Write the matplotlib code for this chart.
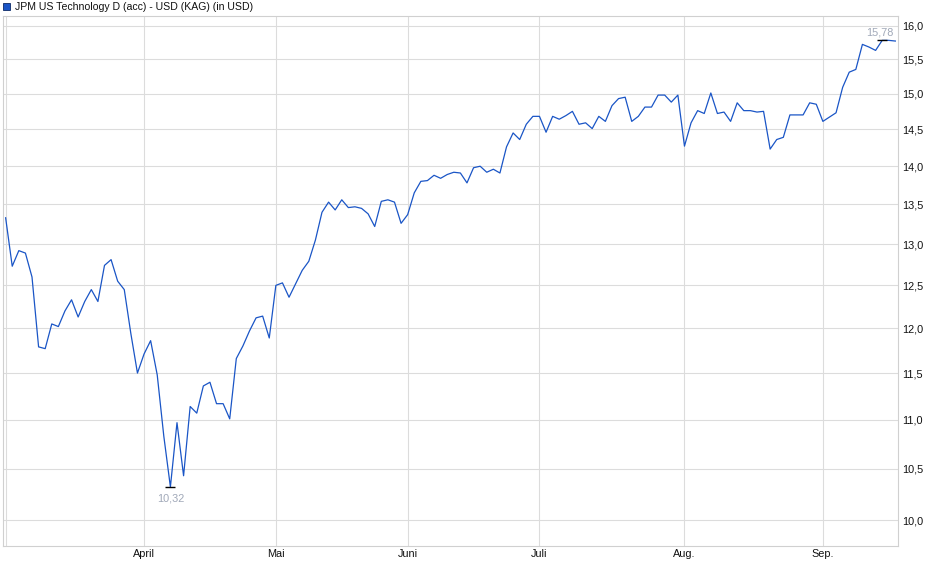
import numpy as np
import matplotlib
matplotlib.use("Agg")
import matplotlib.pyplot as plt
from matplotlib.patches import Rectangle
from matplotlib.ticker import FixedLocator, NullLocator, FuncFormatter

plt.rcParams['font.family'] = ['Liberation Sans', 'DejaVu Sans']

title = "JPM US Technology D (acc) - USD (KAG) (in USD)"

# Schlusskurse (Handelstage)
prices = [
    13.33, 12.73, 12.92, 12.89, 12.60, 11.79, 11.77, 12.05, 12.02, 12.20,
    12.33, 12.13, 12.31, 12.45, 12.31, 12.74, 12.81, 12.55, 12.45, 11.94,
    11.50, 11.71, 11.86, 11.48, 10.83, 10.32, 10.97, 10.43, 11.14, 11.07,
    11.36, 11.40, 11.17, 11.17, 11.01, 11.66, 11.80, 11.97, 12.12, 12.14,
    11.89, 12.50, 12.53, 12.36, 12.52, 12.68, 12.79, 13.05, 13.40, 13.53,
    13.43, 13.56, 13.46, 13.47, 13.45, 13.38, 13.22, 13.54, 13.56, 13.53,
    13.26, 13.37, 13.65, 13.80, 13.81, 13.88, 13.84, 13.89, 13.92, 13.91,
    13.78, 13.98, 14.00, 13.92, 13.96, 13.91, 14.26, 14.45, 14.36, 14.57,
    14.68, 14.68, 14.46, 14.68, 14.64, 14.69, 14.75, 14.57, 14.59, 14.51,
    14.68, 14.61, 14.83, 14.93, 14.95, 14.61, 14.68, 14.81, 14.81, 14.98,
    14.98, 14.88, 14.98, 14.27, 14.59, 14.76, 14.72, 15.01, 14.72, 14.74,
    14.61, 14.87, 14.76, 14.76, 14.74, 14.75, 14.23, 14.36, 14.39, 14.70,
    14.70, 14.70, 14.87, 14.85, 14.61, 14.67, 14.73, 15.09, 15.31, 15.35,
    15.72, 15.68, 15.63, 15.78, 15.78, 15.77,
]

# erster Handelstag je Monat (Index in prices)
month_start = [21, 41, 61, 81, 103, 124]
month_label = ["April", "Mai", "Juni", "Juli", "Aug.", "Sep."]

y_ticks = [10.0, 10.5, 11.0, 11.5, 12.0, 12.5, 13.0, 13.5, 14.0, 14.5, 15.0, 15.5, 16.0]

line_col = "#1a55c6"
grid_col = "#dcdcdc"
note_col = "#a0a8b8"

W, H = 940, 579
fig = plt.figure(figsize=(W / 100, H / 100), dpi=100)
fig.patch.set_facecolor("white")

ax = fig.add_axes([3 / W, 1 - 546 / H, 895 / W, 530 / H])

x = np.arange(len(prices))
p = np.array(prices)

ax.plot(x, p, color=line_col, lw=0.9, zorder=3)

ax.set_yscale("log")
ax.set_ylim(9.756, 16.15)
ax.set_xlim(-0.4, 135.4)

ax.yaxis.set_major_locator(FixedLocator(y_ticks))
ax.yaxis.set_minor_locator(NullLocator())
ax.yaxis.set_major_formatter(FuncFormatter(lambda v, pos: f"{v:.1f}".replace(".", ",")))
ax.yaxis.tick_right()
ax.set_xticks(month_start, month_label)

ax.tick_params(axis="y", length=0, pad=3.2, labelsize=7.8, colors="#111111")
ax.tick_params(axis="x", length=0, pad=2, labelsize=7.8, colors="#111111")

ax.grid(True, color=grid_col, lw=0.8, zorder=0)
ax.axvline(0, color=grid_col, lw=0.8, zorder=0)
for s in ax.spines.values():
    s.set_color("#d0d0d0")
    s.set_linewidth(0.8)

# Tief und Hoch markieren
i_min = int(np.argmin(p))
i_max = int(np.argmax(p))
ax.plot([i_min], [p[i_min]], marker="_", ms=6.5, mew=1.0, color="black", zorder=4)
ax.plot([i_max], [p[i_max]], marker="_", ms=6.5, mew=1.0, color="black", zorder=4)
ax.annotate(f"{p[i_min]:.2f}".replace(".", ","), (i_min, p[i_min]),
            xytext=(0, -8), textcoords="offset points",
            ha="center", va="center", fontsize=7.8, color=note_col)
ax.annotate(f"{p[i_max]:.2f}".replace(".", ","), (i_max, p[i_max]),
            xytext=(-2, 6), textcoords="offset points",
            ha="center", va="center", fontsize=7.8, color=note_col)

# Legende oben links
fig.patches.append(Rectangle((3 / W, 1 - 10 / H), 7 / W, 7 / H,
                             transform=fig.transFigure, facecolor=line_col,
                             edgecolor="#0d2a66", lw=0.6))
fig.text(15 / W, 1 - 6.5 / H, title, ha="left", va="center",
         fontsize=7.6, color="#111111")

plt.savefig("out.png", dpi=100)
